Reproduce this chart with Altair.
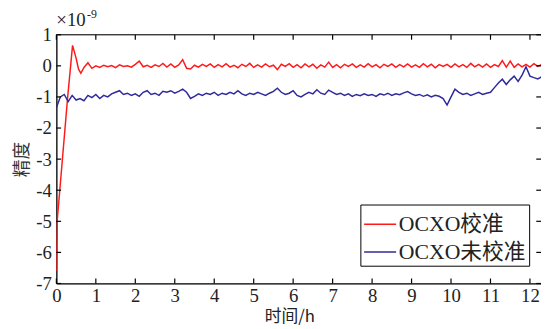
import altair as alt
import pandas as pd

# ---- data ----
series = ["OCXO校准", "OCXO未校准"]
colors = ["#ff1a1a", "#2e2a9c"]

# calibrated: start-up transient (explicit times) then 0.1 h grid from 0.7 h
red_t0 = [0.0, 0.02, 0.28, 0.41, 0.5, 0.56, 0.62]
red_v0 = [-6.6, -5.0, -1.1, 0.66, 0.25, -0.1, -0.24]
red_v = [
    -0.05, 0.10, -0.08,                                                   # 0.7-0.9
    0.00, -0.05, 0.02, -0.03, 0.01, -0.06, 0.03, -0.02, 0.00, -0.04,      # 1.x
    0.05, 0.15, -0.03, 0.02, -0.05, 0.03, -0.02, 0.08, -0.04, 0.06,       # 2.x
    -0.05, 0.03, 0.20, -0.08, -0.10, 0.02, -0.04, 0.05, -0.02, 0.06,      # 3.x
    -0.05, 0.04, -0.03, 0.07, -0.04, 0.02, -0.06, 0.05, -0.02, 0.08,      # 4.x
    -0.05, 0.03, -0.04, 0.06, -0.03, 0.02, -0.12, 0.05, -0.02, 0.07,      # 5.x
    -0.05, 0.04, -0.06, 0.06, -0.03, 0.05, -0.08, 0.03, -0.04, 0.12,      # 6.x
    -0.05, 0.04, -0.06, 0.05, -0.02, 0.06, -0.05, 0.03, -0.04, 0.07,      # 7.x
    -0.03, 0.04, -0.06, 0.05, -0.02, 0.06, -0.05, 0.04, -0.03, 0.06,      # 8.x
    -0.04, 0.03, -0.05, 0.07, -0.03, 0.05, -0.06, 0.04, -0.02, 0.05,      # 9.x
    -0.05, 0.06, -0.03, 0.04, -0.05, 0.08, -0.03, 0.05, -0.04, 0.06,      # 10.x
    -0.05, 0.04, -0.02, 0.17, -0.04, 0.15, -0.05, 0.06, -0.03, 0.05,      # 11.x
    -0.04, 0.07, -0.02, 0.05,                                             # 12.0-12.3
]
red_start = 0.7

# uncalibrated: 0.1 h grid from 0 h
blue_v = [
    -1.35, -1.00, -0.92, -1.15, -0.95, -1.10, -1.05, -1.12, -0.95, -1.02,
    -0.92, -1.05, -0.95, -1.00, -0.90, -0.85, -0.80, -0.92, -0.88, -0.95,
    -0.90, -0.98, -0.85, -0.80, -0.92, -0.88, -0.95, -0.82, -0.85, -0.80,
    -0.88, -0.82, -0.75, -0.85, -1.05, -0.98, -0.90, -0.95, -0.88, -0.92,
    -0.85, -0.95, -0.88, -0.92, -0.85, -0.90, -0.80, -0.90, -0.95, -0.88,
    -0.92, -0.85, -0.90, -0.95, -0.88, -0.82, -0.72, -0.85, -0.92, -0.88,
    -0.80, -0.95, -1.00, -0.92, -0.85, -0.90, -0.77, -0.88, -0.92, -0.78,
    -0.85, -0.92, -0.88, -0.95, -0.90, -0.98, -0.92, -0.96, -0.90, -0.95,
    -0.92, -0.98, -0.90, -0.94, -0.88, -0.95, -0.90, -0.93, -0.87, -0.83,
    -0.90, -0.95, -0.92, -0.98, -0.93, -1.00, -0.95, -0.98, -1.05, -1.26,
    -1.00, -0.75, -0.85, -0.92, -0.88, -0.95, -0.90, -0.85, -0.92, -0.88,
    -0.85, -0.70, -0.55, -0.43, -0.60, -0.45, -0.33, -0.50, -0.30, -0.03,
    -0.33, -0.38, -0.42, -0.35,
]
blue_start = 0.0

x_ticks = list(range(0, 13))
y_ticks = list(range(-7, 2))
XMAX = 12.28
YMIN, YMAX = -7, 1

# ---- build tables ----
rows = []
for t, v in zip(red_t0, red_v0):
    rows.append({"t": t, "v": v, "s": series[0]})
for i, v in enumerate(red_v):
    rows.append({"t": round(red_start + 0.1 * i, 2), "v": v, "s": series[0]})
for i, v in enumerate(blue_v):
    rows.append({"t": round(blue_start + 0.1 * i, 2), "v": v, "s": series[1]})
df = pd.DataFrame(rows)

tick_rows = []
for xv in x_ticks:
    tick_rows.append({"t": xv, "t2": xv, "v": YMIN, "v2": YMIN + 0.16})
    tick_rows.append({"t": xv, "t2": xv, "v": YMAX, "v2": YMAX - 0.16})
for yv in y_ticks:
    tick_rows.append({"t": 0, "t2": 0.12, "v": yv, "v2": yv})
    tick_rows.append({"t": XMAX - 0.12, "t2": XMAX, "v": yv, "v2": yv})
tick_rows.append({"t": 0, "t2": XMAX, "v": YMAX, "v2": YMAX})  # top frame
ticks_df = pd.DataFrame(tick_rows)

xscale = alt.Scale(domain=[0, XMAX], nice=False, zero=False)
yscale = alt.Scale(domain=[YMIN, YMAX], nice=False, zero=False)

serif = "Liberation Serif"
cjk = "Noto Sans CJK SC"

xaxis = alt.Axis(
    values=x_ticks, grid=False, ticks=False, tickSize=0,
    domainColor="black", domainWidth=1.3,
    labelFont=serif, labelFontSize=19, labelColor="#222", labelPadding=3,
    labelExpr="'' + datum.value", labelFlush=False, labelOverlap=False,
    title="时间/h", titleFont=cjk, titleFontSize=17, titleFontWeight="normal",
    titleColor="#222", titleX=236, titleY=26, titleBaseline="top", titleAlign="center")
yaxis = alt.Axis(
    values=y_ticks, grid=False, ticks=False, tickSize=0,
    domainColor="black", domainWidth=1.3,
    labelFont=serif, labelFontSize=19, labelColor="#222", labelPadding=5,
    labelExpr="'' + datum.value", labelFlush=False, labelOverlap=False,
    title="精度", titleFont=cjk, titleFontSize=18, titleFontWeight="normal",
    titleColor="#333", titleX=-34, titleY=126, titleAngle=270,
    titleBaseline="middle", titleAlign="center")

lines = alt.Chart(df).mark_line(strokeWidth=1.5, clip=True).encode(
    x=alt.X("t:Q", scale=xscale, axis=xaxis, title="时间/h"),
    y=alt.Y("v:Q", scale=yscale, axis=yaxis, title="精度"),
    color=alt.Color("s:N", scale=alt.Scale(domain=series, range=colors), sort=series,
                    legend=alt.Legend(
                        title=None, orient="none", legendX=308, legendY=172,
                        direction="vertical", symbolType="stroke", symbolSize=1050,
                        symbolStrokeWidth=1.5, labelFont=serif + ", " + cjk,
                        labelFontSize=22, labelColor="#222", labelLimit=300,
                        strokeColor="black", fillColor="white", padding=3,
                        rowPadding=-9, labelOffset=2)),
)

tick_marks = alt.Chart(ticks_df).mark_rule(color="black", strokeWidth=1.2).encode(
    x=alt.X("t:Q", scale=xscale, axis=xaxis, title="时间/h"), x2="t2:Q",
    y=alt.Y("v:Q", scale=yscale, axis=yaxis, title="精度"), y2="v2:Q",
)

one = pd.DataFrame({"a": [0]})
times10 = alt.Chart(one).mark_text(
    font=serif, fontSize=19, align="left", baseline="middle", color="#222"
).encode(x=alt.value(0), y=alt.value(-15), text=alt.value("×10"))
exp9 = alt.Chart(one).mark_text(
    font=serif, fontSize=12, align="left", baseline="middle", color="#222"
).encode(x=alt.value(31), y=alt.value(-21), text=alt.value("-9"))

chart = alt.layer(lines, tick_marks, times10, exp9).properties(
    width=491, height=252,
    padding={"left": 49, "top": 25, "right": 0, "bottom": 44},
    autosize=alt.AutoSizeParams(type="none"),
).configure_view(stroke=None).configure_axis(labelOverlap=False).configure(background="white")

chart.save("out.html", embed_options={"renderer": "svg", "actions": False})
